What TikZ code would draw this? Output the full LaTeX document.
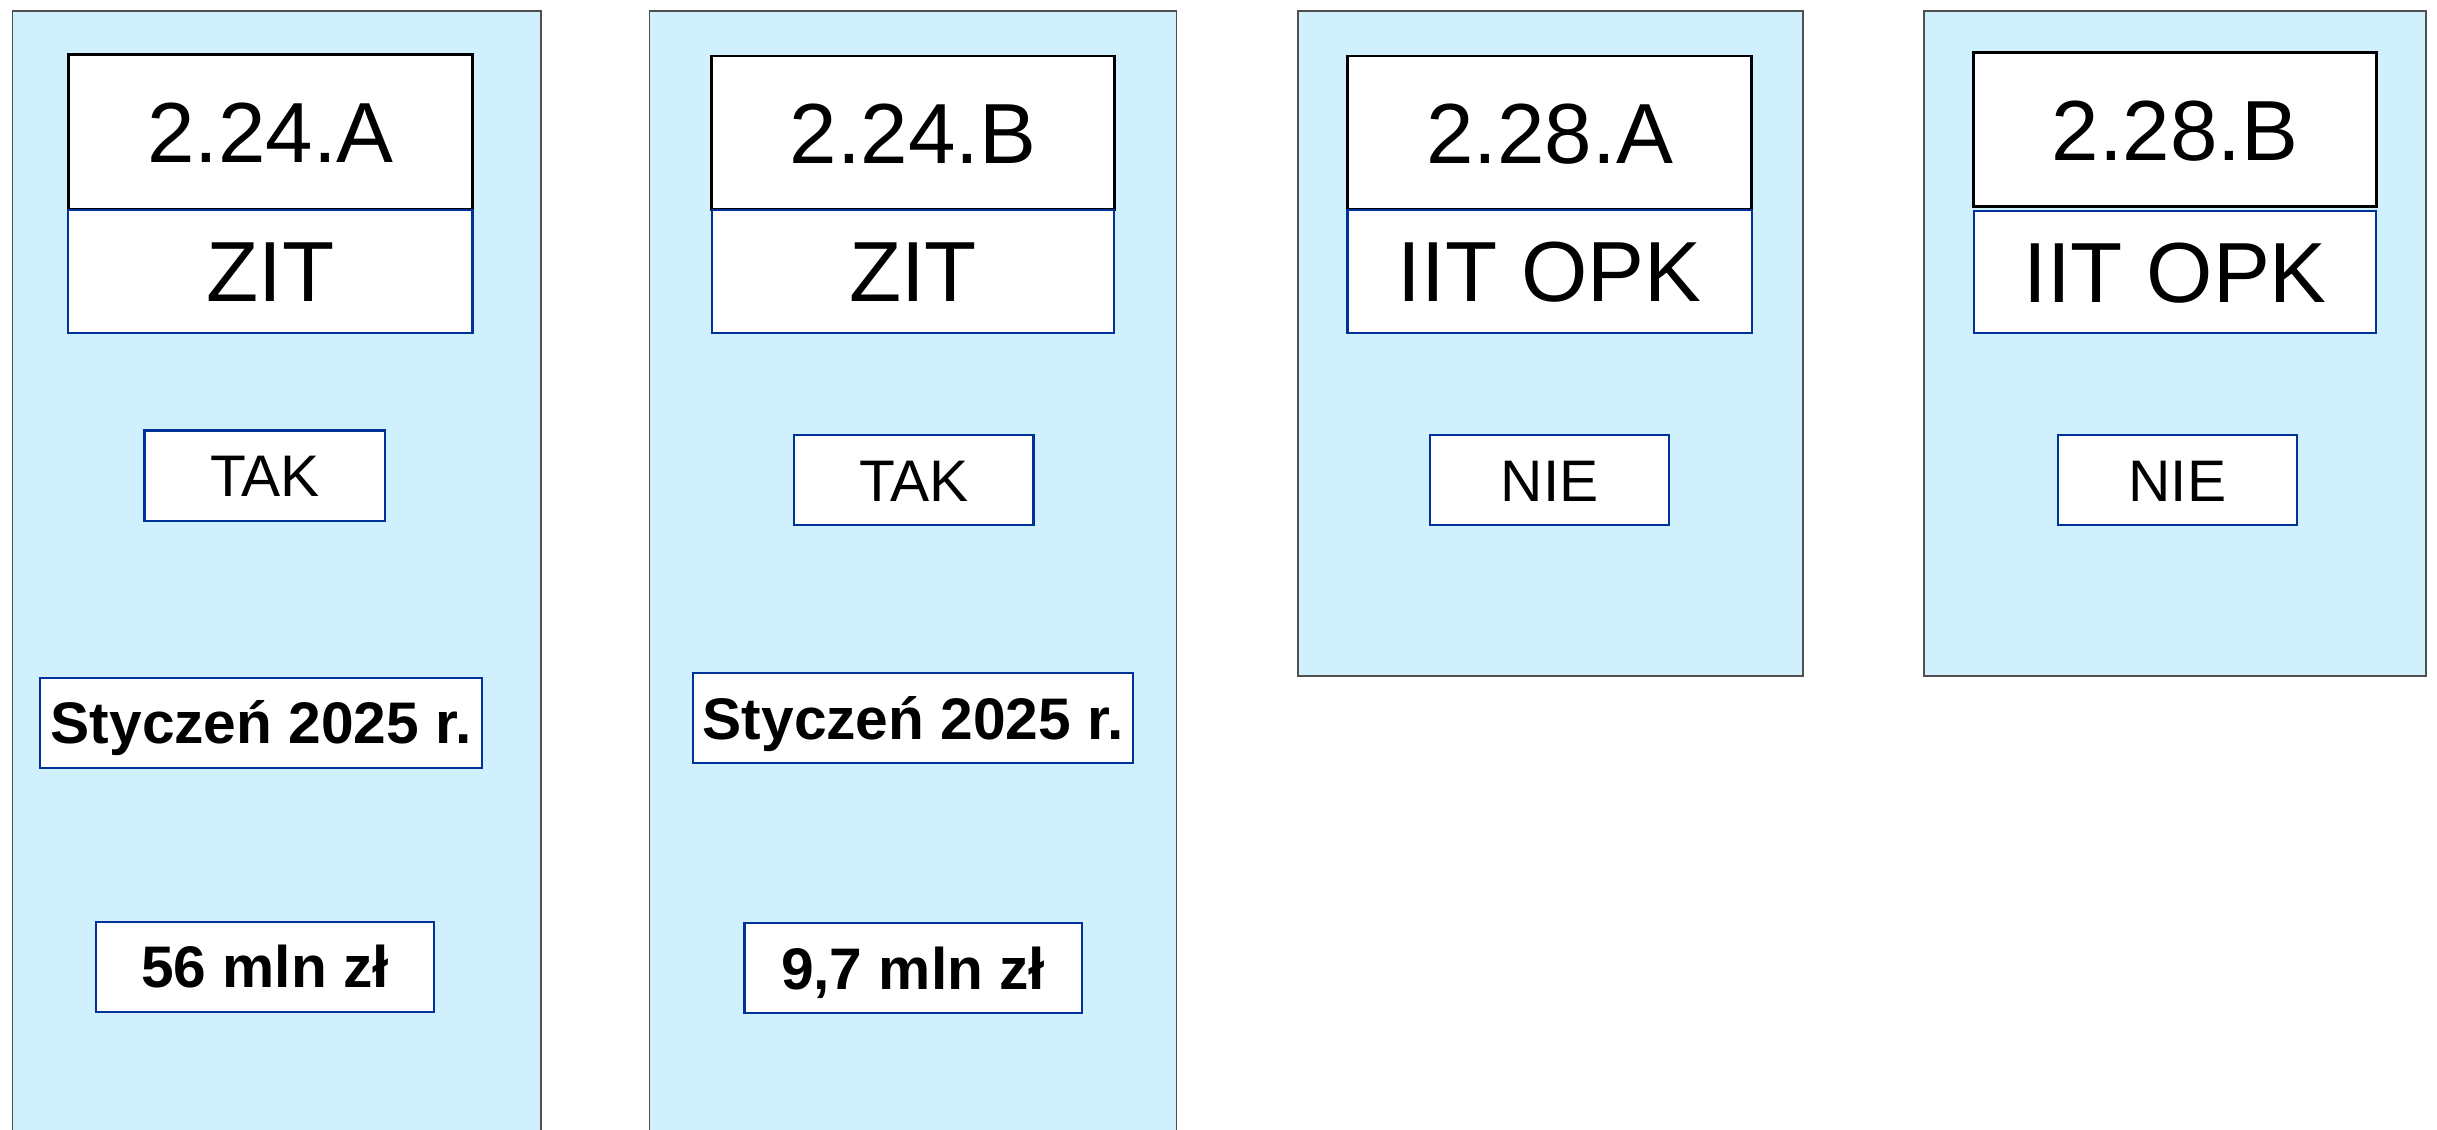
\documentclass[tikz,border=0pt]{standalone}
\usepackage{fontspec}
\setmainfont{Liberation Sans}
\definecolor{colfill}{RGB}{208,240,253}
\definecolor{colline}{RGB}{80,80,80}
\definecolor{boxblue}{RGB}{0,51,153}

\begin{document}
\begin{tikzpicture}[x=0.75pt,y=0.75pt,yscale=-1,xscale=1,
    column/.style={draw=colline,fill=colfill,line width=1.1pt},
    numbox/.style={draw=black,fill=white,line width=2pt},
    bluebox/.style={draw=boxblue,fill=white,line width=1.6pt},
    bigtext/.style={inner sep=0pt,text height=46pt,text depth=0pt,font=\fontsize{64}{70}\selectfont},
    smalltext/.style={inner sep=0pt,text height=31.5pt,text depth=0pt,font=\fontsize{44}{50}\selectfont},
    boldtext/.style={smalltext,font=\fontsize{44}{50}\selectfont\bfseries}]
        \clip (0,0) rectangle (2437,1129);
        \fill [white] (0,0) rectangle (2437,1129);

        %Shape: Rectangle [column 1]
        \draw [column] (12.4,10.9) rectangle (540.9,1140);
        %Shape: Rectangle [column 2]
        \draw [column] (649.6,10.9) rectangle (1176.5,1140);
        %Shape: Rectangle [column 3]
        \draw [column] (1297.8,10.9) rectangle (1802.9,676.1);
        %Shape: Rectangle [column 4]
        \draw [column] (1924.1,10.9) rectangle (2426.1,676.1);

        %Shape: Rectangle [headers]
        \draw [numbox] (68.4,54.4) rectangle (472.5,209.8);
        \draw [bluebox] (68.4,209.8) rectangle (472.5,332.6);
        \draw [numbox] (711.8,56) rectangle (1114.4,209.8);
        \draw [bluebox] (711.8,209.8) rectangle (1114.4,332.6);
        \draw [numbox] (1347.5,56) rectangle (1751.6,209.8);
        \draw [bluebox] (1347.5,209.8) rectangle (1751.6,332.6);
        \draw [numbox] (1973.8,52.8) rectangle (2376.4,206.7);
        \draw [bluebox] (1973.8,211.4) rectangle (2376.4,332.6);

        %Shape: Rectangle [answers]
        \draw [bluebox] (144.5,430.5) rectangle (385.4,520.7);
        \draw [bluebox] (794.2,435.2) rectangle (1033.5,525.3);
        \draw [bluebox] (1429.9,435.2) rectangle (1669.2,525.3);
        \draw [bluebox] (2057.7,435.2) rectangle (2297.1,525.3);

        %Shape: Rectangle [dates]
        \draw [bluebox] (40.4,677.6) rectangle (481.8,767.8);
        \draw [bluebox] (693.2,673) rectangle (1133,763.1);

        %Shape: Rectangle [amounts]
        \draw [bluebox] (96.4,921.6) rectangle (433.6,1011.8);
        \draw [bluebox] (744.5,923.2) rectangle (1081.7,1013.3);

        % Text Node
        \node [bigtext] (nr1) at (270.5,132.1) {2.24.A};
        \node [bigtext] (inst1) at (270.5,271.2) {ZIT};
        \node [smalltext] (ans1) at (265,475.6) {TAK};
        \node [boldtext] (date1) at (261.1,722.7) {Styczeń 2025 r.};
        \node [boldtext] (amt1) at (265,966.7) {56 mln zł};
        % Text Node
        \node [bigtext] (nr2) at (913.1,132.9) {2.24.B};
        \node [bigtext] (inst2) at (913.1,271.2) {ZIT};
        \node [smalltext] (ans2) at (913.9,480.3) {TAK};
        \node [boldtext] (date2) at (913.1,718.1) {Styczeń 2025 r.};
        \node [boldtext] (amt2) at (913.1,968.3) {9,7 mln zł};
        % Text Node
        \node [bigtext] (nr3) at (1549.6,132.9) {2.28.A};
        \node [bigtext] (inst3) at (1549.6,271.2) {IIT OPK};
        \node [smalltext] (ans3) at (1549.6,480.3) {NIE};
        % Text Node
        \node [bigtext] (nr4) at (2175.1,129.8) {2.28.B};
        \node [bigtext] (inst4) at (2175.1,272) {IIT OPK};
        \node [smalltext] (ans4) at (2177.4,480.3) {NIE};

    \end{tikzpicture}
\end{document}
